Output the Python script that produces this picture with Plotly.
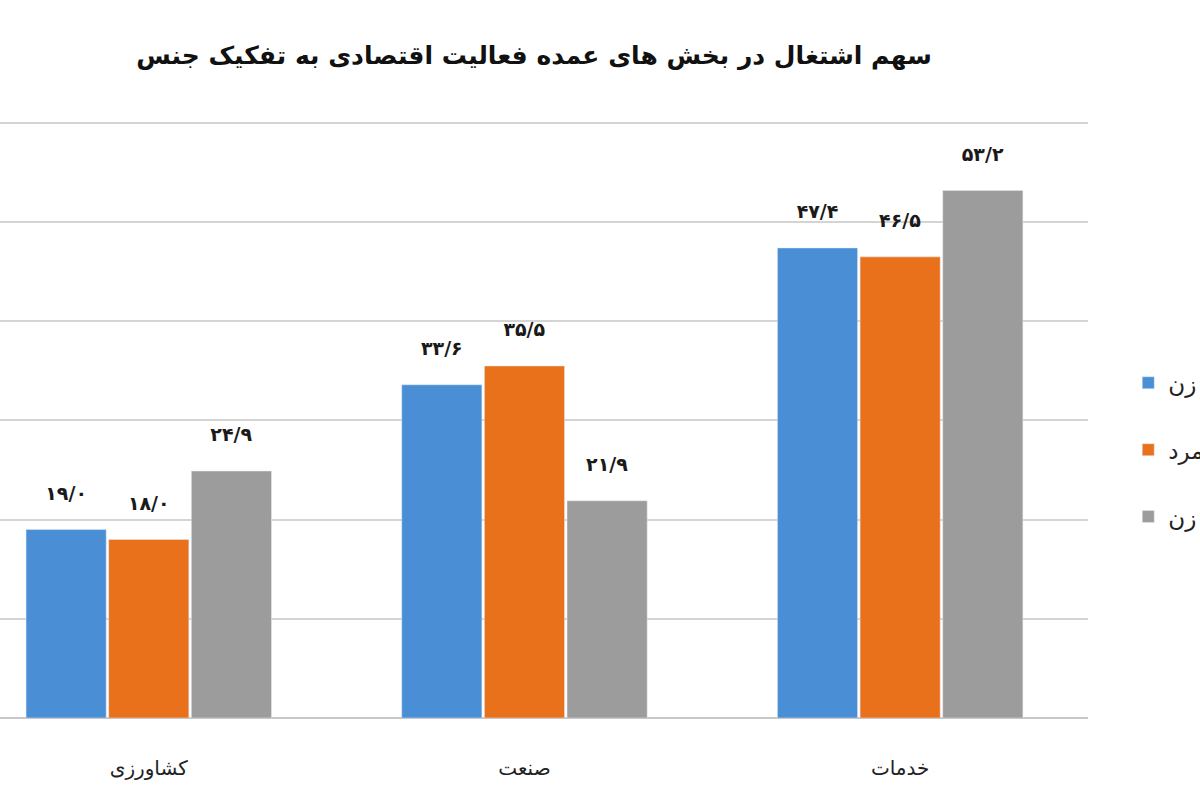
import plotly.graph_objects as go

sectors = ['کشاورزی', 'صنعت', 'خدمات']
women = [19.0, 33.6, 47.4]
men = [18.0, 35.5, 46.5]
women2 = [24.9, 21.9, 53.2]
series_names = ['زن', 'مرد', 'مرد و زن']
colors = ['#4a8ed6', '#ea711c', '#9c9c9c']

fa_digits = str.maketrans('0123456789.', '۰۱۲۳۴۵۶۷۸۹/')


def fa_label(v):
    return ('<b>' + ('%.1f' % v).translate(fa_digits) + '</b>'
            '<br><span style="font-size:10px"> </span>')


fig = go.Figure()

for name, vals, col in zip(series_names, [women, men, women2], colors):
    fig.add_trace(go.Bar(x=sectors, y=vals,
                         name=name,
                         legendgroup=name,
                         marker_color=col,
                         text=[fa_label(v) for v in vals],
                         textposition='outside',
                         cliponaxis=False,
                         textfont=dict(family='DejaVu Sans', size=19, color='#1a1a1a')))

fig.update_layout(
    title=dict(
        text='<b>سهم اشتغال در بخش های عمده فعالیت اقتصادی به تفکیک جنس</b>',
        x=0.445,
        xanchor='center',
        y=0.931,
        yanchor='middle',
        font=dict(family='DejaVu Sans', size=25, color='#111'),
    ),
    xaxis=dict(
        range=[-0.396, 2.5],
        showline=False,
        showgrid=False,
        ticks='',
        ticklabelstandoff=36,
        tickfont=dict(family='DejaVu Sans', size=20, color='#222'),
    ),
    yaxis=dict(
        range=[0, 60.5],
        tickvals=[10, 20, 30, 40, 50, 60],
        showgrid=True,
        gridcolor='#d4d4d4',
        gridwidth=2,
        zeroline=True,
        zerolinecolor='#c8c8c8',
        zerolinewidth=2,
        showticklabels=False,
        showline=False,
    ),
    # legend sits at the right edge and is cropped like the source image
    legend=dict(
        x=1.037,
        xanchor='left',
        y=0.447,
        yanchor='middle',
        tracegroupgap=34,
        font=dict(family='DejaVu Sans', size=23, color='#222'),
    ),
    bargap=0.34,
    bargroupgap=0.03,
    margin=dict(l=0, r=112, t=118, b=82, autoexpand=False),
    width=1200,
    height=800,
    plot_bgcolor='white',
    paper_bgcolor='white',
)

fig.write_html("out.html", config={'displayModeBar': False},
               post_script="document.body.style.margin='0';")
